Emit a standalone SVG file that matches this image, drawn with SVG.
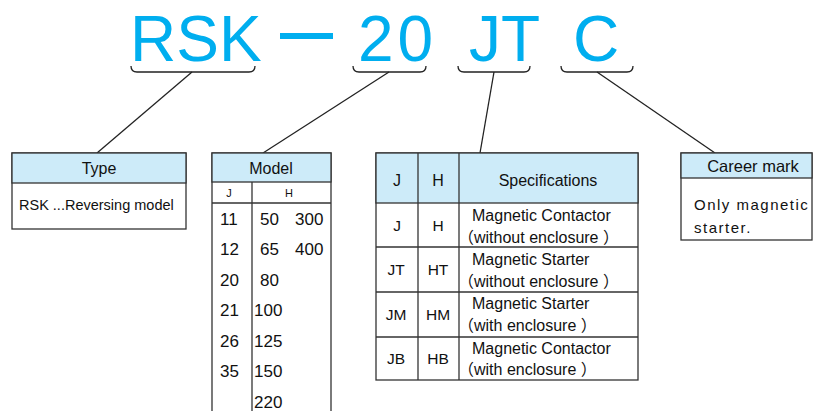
<svg xmlns="http://www.w3.org/2000/svg" width="814" height="411" viewBox="0 0 814 411">
<style>
text{font-family:"Liberation Sans",Arial,"Noto Sans CJK SC",sans-serif;fill:#111}
.title{font-size:64px;fill:#00AEEF}
.box{fill:#fff;stroke:#333;stroke-width:1.3}
.hdr{fill:#CDEBF9;stroke:#333;stroke-width:1.3}
.ln{stroke:#333;stroke-width:1.3;fill:none}
.brace{stroke:#222;stroke-width:1.3;fill:none}
.c{text-anchor:middle}
.h16{font-size:16px}
.t14{font-size:14.5px}
.n17{font-size:17px}
.s16{font-size:16px}
</style>
<g id="title">
<text class="title" x="130" y="61">RSK</text>
<rect x="280" y="33" width="53" height="6" fill="#00AEEF"/>
<text class="title" x="358" y="61" letter-spacing="4">20</text>
<text class="title" x="469" y="61">JT</text>
<text class="title" x="573" y="61">C</text>
</g>
<g id="connectors">
<path class="brace" d="M131,66 Q131,72 137,72 H249 Q255,72 255,66"/>
<path class="brace" d="M353,66 Q353,72 359,72 H420 Q426,72 426,66"/>
<path class="brace" d="M458,66 Q458,72 464,72 H524 Q530,72 530,66"/>
<path class="brace" d="M561,66 Q561,72 567,72 H627 Q633,72 633,66"/>
<line class="brace" x1="192" y1="72" x2="97" y2="153"/>
<line class="brace" x1="389" y1="72" x2="263" y2="153"/>
<line class="brace" x1="494" y1="72" x2="480" y2="153"/>
<line class="brace" x1="597" y1="72" x2="715" y2="153"/>
</g>
<g id="type">
<rect class="box" x="12" y="153" width="174" height="76"/>
<rect class="hdr" x="12" y="153" width="174" height="30"/>
<text class="c h16" x="99" y="174">Type</text>
<text class="t14" x="19" y="210">RSK ...Reversing model</text>
</g>
<g id="model">
<rect x="212" y="153" width="119" height="270" class="box"/>
<rect class="hdr" x="212" y="153" width="119" height="29"/>
<line class="ln" x1="212" y1="203" x2="331" y2="203"/>
<line class="ln" x1="252" y1="182" x2="252" y2="411"/>
<text class="c h16" x="271" y="174">Model</text>
<text class="c" font-size="11" x="229" y="197">J</text>
<text class="c" font-size="11" x="289" y="197">H</text>
<g class="n17">
<text x="220" y="225">11</text><text x="260" y="225">50</text><text x="295" y="225">300</text>
<text x="220" y="255">12</text><text x="260" y="255">65</text><text x="295" y="255">400</text>
<text x="220" y="286">20</text><text x="260" y="286">80</text>
<text x="220" y="316">21</text><text x="254" y="316">100</text>
<text x="220" y="347">26</text><text x="254" y="347">125</text>
<text x="220" y="377">35</text><text x="254" y="377">150</text>
<text x="254" y="408">220</text>
</g>
</g>
<g id="specifications">
<rect class="box" x="376" y="153" width="262" height="227"/>
<rect class="hdr" x="376" y="153" width="262" height="50"/>
<line class="ln" x1="418" y1="153" x2="418" y2="380"/>
<line class="ln" x1="459" y1="153" x2="459" y2="380"/>
<line class="ln" x1="376" y1="247" x2="638" y2="247"/>
<line class="ln" x1="376" y1="292" x2="638" y2="292"/>
<line class="ln" x1="376" y1="337" x2="638" y2="337"/>
<g class="c" font-size="16">
<text x="397" y="186">J</text><text x="438" y="186">H</text><text x="548" y="186">Specifications</text>
</g>
<g class="c" font-size="15.5">
<text x="397" y="231">J</text><text x="438" y="231">H</text>
<text x="396" y="275">JT</text><text x="438" y="275">HT</text>
<text x="396" y="320">JM</text><text x="438" y="320">HM</text>
<text x="396" y="364">JB</text><text x="438" y="364">HB</text>
</g>
<g class="s16">
<text x="472" y="221">Magnetic Contactor</text>
<text x="458" y="243">（without enclosure ）</text>
<text x="472" y="265">Magnetic Starter</text>
<text x="458" y="287">（without enclosure ）</text>
<text x="472" y="309">Magnetic Starter</text>
<text x="458" y="331">（with enclosure ）</text>
<text x="472" y="354">Magnetic Contactor</text>
<text x="458" y="375">（with enclosure ）</text>
</g>
</g>
<g id="career-mark">
<rect class="box" x="681" y="153" width="131" height="87"/>
<rect class="hdr" x="681" y="153" width="131" height="25"/>
<text class="c" font-size="16.5" x="753" y="172">Career mark</text>
<text font-size="15" x="694" y="210" letter-spacing="1.5">Only magnetic</text>
<text font-size="15" x="694" y="233" letter-spacing="1.5">starter.</text>
</g>
</svg>
